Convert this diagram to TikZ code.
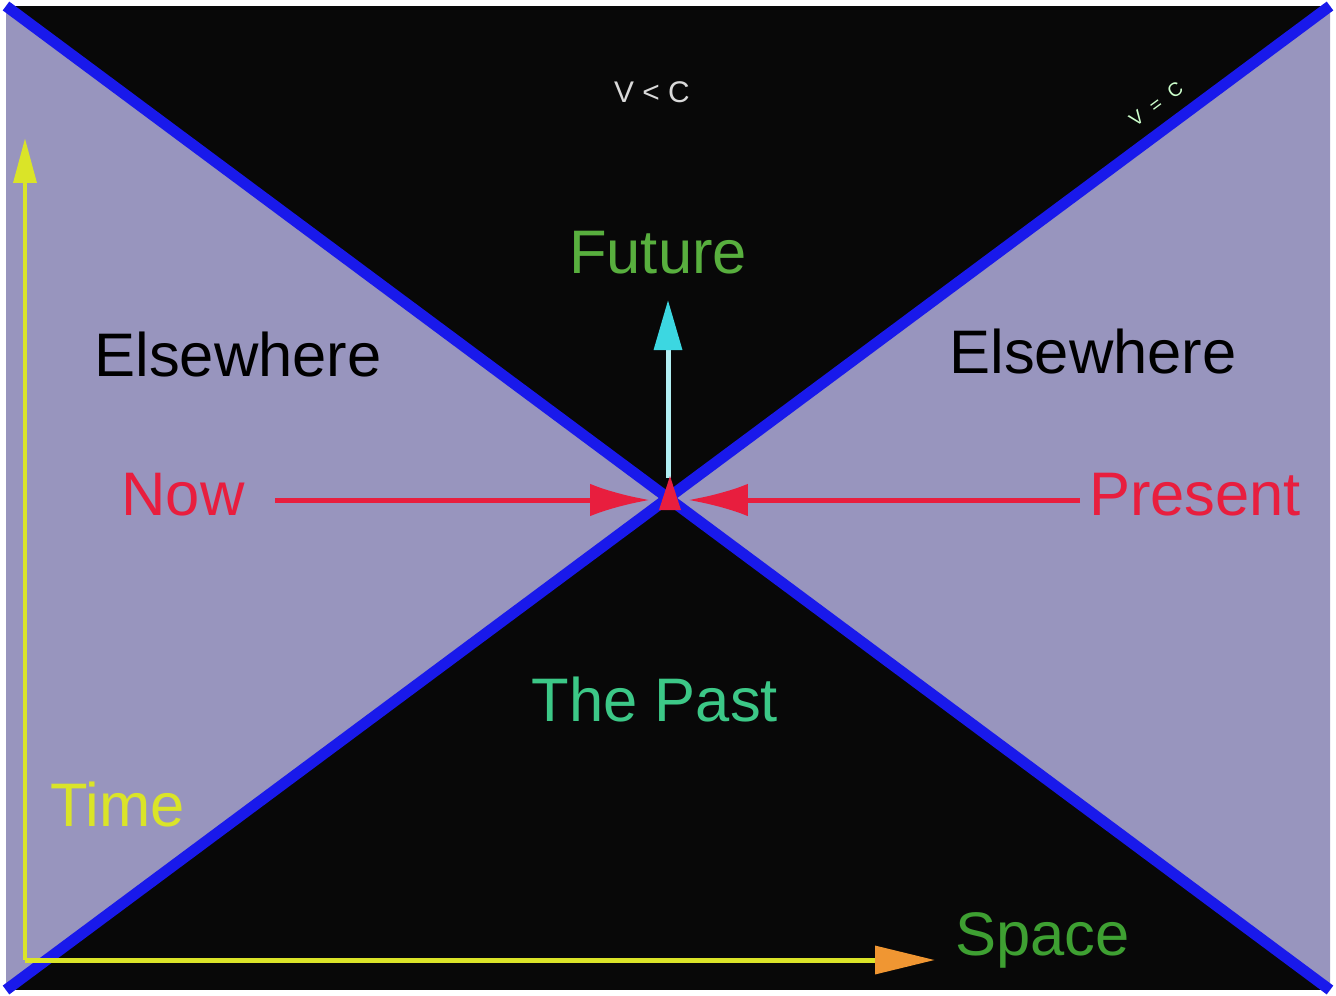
\documentclass[tikz,border=0pt]{standalone}
\usepackage{fontspec}
\setmainfont{Liberation Sans}
\usetikzlibrary{arrows.meta}
\definecolor{conebg}{RGB}{8,8,8}
\definecolor{elsegray}{RGB}{152,149,190}
\definecolor{coneblue}{RGB}{25,25,235}
\definecolor{nowred}{RGB}{232,30,62}
\definecolor{futgreen}{RGB}{88,175,62}
\definecolor{pastgreen}{RGB}{60,200,135}
\definecolor{spacegreen}{RGB}{62,160,50}
\definecolor{timeyellow}{RGB}{218,228,40}
\definecolor{tiporange}{RGB}{240,150,50}
\definecolor{futcyan}{RGB}{60,215,225}

\begin{document}
\begin{tikzpicture}[x=0.02cm, y=-0.02cm,
  bigtext/.style={inner sep=0pt, font=\fontsize{35}{40}\selectfont},
  redarrow/.style={draw=nowred, line width=0.1cm, -{Latex[length=1.2cm, width=0.65cm]}},
  axisline/.style={draw=timeyellow, line width=0.1cm}]
  \useasboundingbox (0,0) rectangle (1336,995);
  % Outer frame
  \fill[white] (0,0) rectangle (1336,995);
  \coordinate (tl) at (6,6);
  \coordinate (tr) at (1330,6);
  \coordinate (bl) at (6,990);
  \coordinate (br) at (1330,990);
  \coordinate (o) at (668,498);
  \fill[conebg] (tl) rectangle (br);
  % Elsewhere regions
  \fill[elsegray] (tl) -- (o) -- (bl) -- cycle;
  \fill[elsegray] (tr) -- (o) -- (br) -- cycle;
  % Light cone edges
  \draw[coneblue, line width=0.22cm] (tl) -- (br);
  \draw[coneblue, line width=0.22cm] (tr) -- (bl);
  % Top labels
  \node[inner sep=0pt, text=white!85!black, font=\fontsize{17}{20}\selectfont] (vlc) at (652,92) {V < C};
  \node[inner sep=0pt, text=white!80!green, font=\fontsize{11}{13}\selectfont, rotate=36.5] (veqc) at (1156,104) {V\hspace{0.6em}=\hspace{0.6em}C};
  % Future
  \node[bigtext, text=futgreen] (future) at (658,253) {Future};
  \coordinate (futtail) at (668,478);
  \coordinate (futtip) at (668,300);
  \draw[draw=white!60!futcyan, line width=0.1cm, -{Triangle[length=1cm, width=0.55cm, color=futcyan, fill=futcyan]}] (futtail) -- (futtip);
  % Elsewhere
  \node[bigtext, text=black] (elseleft) at (238,355) {Elsewhere};
  \node[bigtext, text=black] (elseright) at (1093,352) {Elsewhere};
  % Now and Present
  \node[bigtext, text=nowred] (now) at (183,495) {Now};
  \node[bigtext, text=nowred] (present) at (1195,495) {Present};
  \coordinate (nowtail) at (275,500);
  \coordinate (nowtip) at (650,500);
  \coordinate (prestail) at (1080,500);
  \coordinate (prestip) at (688,500);
  \draw[redarrow] (nowtail) -- (nowtip);
  \draw[redarrow] (prestail) -- (prestip);
  \fill[nowred] (670,476) -- (659,510) -- (681,510) -- cycle;
  % The Past
  \node[bigtext, text=pastgreen] (past) at (655,700) {The Past};
  % Axes
  \coordinate (origin) at (25,960);
  \coordinate (timetip) at (25,138);
  \coordinate (spacetip) at (935,960);
  \draw[axisline, -{Triangle[length=0.9cm, width=0.45cm]}] (origin) -- (timetip);
  \draw[axisline, -{Triangle[length=1.2cm, width=0.55cm, color=tiporange, fill=tiporange]}] (origin) -- (spacetip);
  \node[bigtext, text=timeyellow, anchor=west] (time) at (50,805) {Time};
  \node[bigtext, text=spacegreen, anchor=base west] (space) at (955,955) {Space};
\end{tikzpicture}
\end{document}
